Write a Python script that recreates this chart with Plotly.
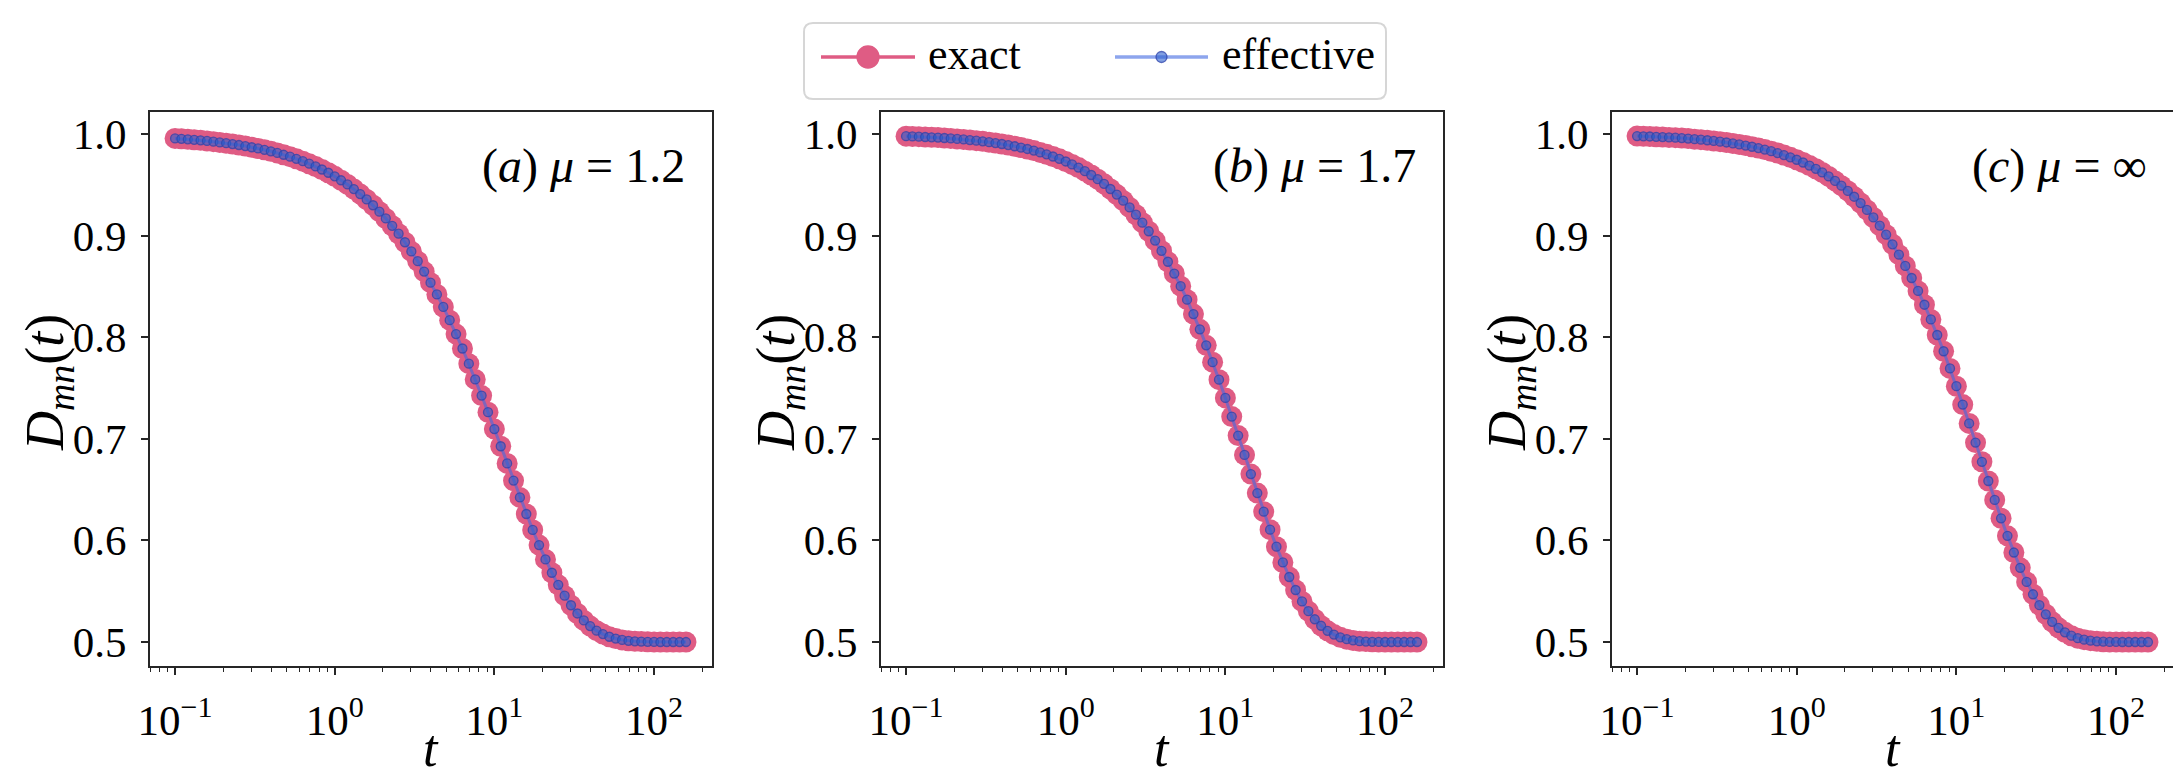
import plotly.graph_objects as go
from plotly.subplots import make_subplots

# time grid (log spaced)
t = [0.1, 0.1096, 0.1202, 0.1318, 0.1445, 0.1585, 0.1738, 0.1905, 0.2089, 0.2291,
     0.2512, 0.2754, 0.3020, 0.3311, 0.3631, 0.3981, 0.4365, 0.4786, 0.5248, 0.5754,
     0.6310, 0.6918, 0.7586, 0.8318, 0.9120,
     1.0, 1.096, 1.202, 1.318, 1.445, 1.585, 1.738, 1.905, 2.089, 2.291,
     2.512, 2.754, 3.020, 3.311, 3.631, 3.981, 4.365, 4.786, 5.248, 5.754,
     6.310, 6.918, 7.586, 8.318, 9.120,
     10.0, 10.96, 12.02, 13.18, 14.45, 15.85, 17.38, 19.05, 20.89, 22.91,
     25.12, 27.54, 30.20, 33.11, 36.31, 39.81, 43.65, 47.86, 52.48, 57.54,
     63.10, 69.18, 75.86, 83.18, 91.20,
     100.0, 109.6, 120.2, 131.8, 144.5, 158.5]

# D_mn(t), panel (a) mu = 1.2
d_a = [0.9957, 0.9953, 0.9948, 0.9943, 0.9938, 0.9932, 0.9925, 0.9918, 0.9910, 0.9901,
       0.9892, 0.9882, 0.9870, 0.9858, 0.9845, 0.9830, 0.9814, 0.9796, 0.9777, 0.9756,
       0.9733, 0.9708, 0.9681, 0.9651, 0.9619,
       0.9584, 0.9545, 0.9504, 0.9458, 0.9409, 0.9356, 0.9299, 0.9236, 0.9169, 0.9097,
       0.9019, 0.8935, 0.8845, 0.8749, 0.8646, 0.8537, 0.8421, 0.8298, 0.8168, 0.8031,
       0.7889, 0.7740, 0.7585, 0.7426, 0.7262,
       0.7096, 0.6927, 0.6758, 0.6589, 0.6423, 0.6260, 0.6103, 0.5954, 0.5813, 0.5682,
       0.5563, 0.5456, 0.5362, 0.5281, 0.5213, 0.5157, 0.5112, 0.5078, 0.5052, 0.5034,
       0.5021, 0.5012, 0.5007, 0.5004, 0.5002,
       0.5001, 0.5000, 0.5000, 0.5000, 0.5000, 0.5000]

# panel (b) mu = 1.7
d_b = [0.9979, 0.9977, 0.9974, 0.9971, 0.9968, 0.9965, 0.9961, 0.9957, 0.9952, 0.9947,
       0.9941, 0.9935, 0.9928, 0.9920, 0.9911, 0.9902, 0.9891, 0.9880, 0.9867, 0.9853,
       0.9837, 0.9819, 0.9800, 0.9779, 0.9756,
       0.9730, 0.9701, 0.9670, 0.9635, 0.9597, 0.9556, 0.9510, 0.9459, 0.9404, 0.9344,
       0.9278, 0.9206, 0.9128, 0.9043, 0.8951, 0.8851, 0.8743, 0.8627, 0.8503, 0.8370,
       0.8228, 0.8078, 0.7920, 0.7755, 0.7582,
       0.7403, 0.7219, 0.7032, 0.6842, 0.6653, 0.6466, 0.6283, 0.6106, 0.5939, 0.5783,
       0.5640, 0.5512, 0.5400, 0.5304, 0.5224, 0.5160, 0.5110, 0.5073, 0.5046, 0.5028,
       0.5016, 0.5008, 0.5004, 0.5002, 0.5001,
       0.5000, 0.5000, 0.5000, 0.5000, 0.5000, 0.5000]

# panel (c) mu = infinity
d_c = [0.9980, 0.9978, 0.9976, 0.9973, 0.9970, 0.9967, 0.9964, 0.9960, 0.9955, 0.9950,
       0.9945, 0.9939, 0.9932, 0.9925, 0.9917, 0.9908, 0.9898, 0.9887, 0.9875, 0.9862,
       0.9847, 0.9831, 0.9813, 0.9793, 0.9771,
       0.9747, 0.9720, 0.9690, 0.9658, 0.9622, 0.9583, 0.9539, 0.9492, 0.9440, 0.9383,
       0.9321, 0.9253, 0.9179, 0.9098, 0.9010, 0.8915, 0.8813, 0.8702, 0.8583, 0.8456,
       0.8320, 0.8175, 0.8022, 0.7862, 0.7693,
       0.7518, 0.7337, 0.7152, 0.6963, 0.6774, 0.6585, 0.6399, 0.6218, 0.6045, 0.5881,
       0.5730, 0.5592, 0.5470, 0.5363, 0.5273, 0.5199, 0.5140, 0.5095, 0.5062, 0.5038,
       0.5023, 0.5013, 0.5007, 0.5003, 0.5001,
       0.5001, 0.5000, 0.5000, 0.5000, 0.5000, 0.5000]

panels = [d_a, d_b, d_c]
labels = ["(<i>a</i>) <i>μ</i> = 1.2", "(<i>b</i>) <i>μ</i> = 1.7", "(<i>c</i>) <i>μ</i> = ∞"]
series_names = ["exact", "effective"]

x_ticks = [0.1, 1, 10, 100]
x_ticktext = ["10<sup>−1</sup>", "10<sup>0</sup>", "10<sup>1</sup>", "10<sup>2</sup>"]
y_ticks = [0.5, 0.6, 0.7, 0.8, 0.9, 1.0]

PINK = "#DF5C84"
BLUE_LINE = "rgba(65,105,225,0.6)"
BLUE_DOT = "rgba(45,95,205,0.6)"
BLUE_EDGE = "rgba(45,65,170,0.75)"
FONT = "Liberation Serif"
W, H = 2181, 782

fig = make_subplots(rows=1, cols=3)

for i, d in enumerate(panels):
    col = i + 1
    fig.add_trace(go.Scatter(
        x=t, y=d, mode="lines+markers", name=series_names[0],
        line=dict(color=PINK, width=3),
        marker=dict(color=PINK, size=21),
        showlegend=False), row=1, col=col)
    fig.add_trace(go.Scatter(
        x=t, y=d, mode="lines+markers", name=series_names[1],
        line=dict(color=BLUE_LINE, width=3),
        marker=dict(color=BLUE_DOT, size=9, line=dict(color=BLUE_EDGE, width=1.3)),
        showlegend=False), row=1, col=col)

# axes boxes in pixels -> paper fractions
lefts = [142, 873, 1604]
pw = 562
top, bottom = 104, 658


def px(x):
    return x / W


def py(y):
    return 1 - y / H


axis_common = dict(showline=True, linecolor="#262626", linewidth=2, mirror=True,
                   ticks="outside", ticklen=7, tickwidth=2, tickcolor="#262626",
                   showgrid=False, zeroline=False, automargin=False,
                   tickfont=dict(family=FONT, size=43, color="black"))

for i in range(3):
    sfx = "" if i == 0 else str(i + 1)
    fig.layout["xaxis" + sfx].update(
        type="log", range=[-1.157, 2.363],
        domain=[px(lefts[i]), px(lefts[i] + pw)],
        tickvals=x_ticks, ticktext=x_ticktext, ticklabelstandoff=8,
        minor=dict(ticks="outside", ticklen=4, tickwidth=1, tickcolor="#262626",
                   tickvals=[0.07, 0.08, 0.09, 0.2, 0.3, 0.4, 0.5, 0.6, 0.7, 0.8, 0.9,
                             2, 3, 4, 5, 6, 7, 8, 9, 20, 30, 40, 50, 60, 70, 80, 90, 200],
                   showgrid=False),
        **axis_common)
    fig.layout["yaxis" + sfx].update(
        range=[0.4764, 1.0217],
        domain=[py(bottom), py(top)],
        tickvals=y_ticks, tickformat=".1f", ticklabelstandoff=6,
        **axis_common)
    fig.add_annotation(
        text=labels[i], xref="x%s domain" % sfx, yref="y%s domain" % sfx,
        x=0.955, y=0.9025, xanchor="right", yanchor="middle", showarrow=False,
        font=dict(family=FONT, size=48, color="black"))
    # axis titles
    fig.add_annotation(
        text="<i>t</i>", xref="paper", yref="paper",
        x=px(lefts[i] + pw / 2), y=py(740), xanchor="center", yanchor="middle",
        showarrow=False, font=dict(family=FONT, size=52, color="black"))
    fig.add_annotation(
        text="<i>D</i><sub><i>mn</i></sub>(<i>t</i>)", xref="paper", yref="paper",
        x=px(lefts[i] - 102), y=py((top + bottom) / 2 - 6), xanchor="center",
        yanchor="middle", textangle=-90, showarrow=False,
        font=dict(family=FONT, size=54, color="black"))

# legend drawn by hand so the sample lines can be as long as in the original
bx0, bx1, by0, by1, r = 796, 1378, 15, 91, 9
rx, ry = r / W, r / H
X0, X1, Y0, Y1 = px(bx0), px(bx1), py(by0), py(by1)
box = (f"M {X0 + rx},{Y0} L {X1 - rx},{Y0} Q {X1},{Y0} {X1},{Y0 - ry} "
       f"L {X1},{Y1 + ry} Q {X1},{Y1} {X1 - rx},{Y1} L {X0 + rx},{Y1} "
       f"Q {X0},{Y1} {X0},{Y1 + ry} L {X0},{Y0 - ry} Q {X0},{Y0} {X0 + rx},{Y0} Z")
fig.add_shape(type="path", path=box, xref="paper", yref="paper",
              line=dict(color="#d6d6d6", width=2), fillcolor="white", layer="above")

ly = 49
legend_items = [
    dict(x0=813, x1=907, line=PINK, dot=PINK, edge=PINK, d=22, text_x=918),
    dict(x0=1107, x1=1200, line=BLUE_LINE, dot=BLUE_DOT, edge=BLUE_EDGE, d=11, text_x=1212),
]
for name, it in zip(series_names, legend_items):
    fig.add_shape(type="line", xref="paper", yref="paper",
                  x0=px(it["x0"]), x1=px(it["x1"]), y0=py(ly), y1=py(ly),
                  line=dict(color=it["line"], width=3.5), layer="above")
    cx = (it["x0"] + it["x1"]) / 2
    hd = it["d"] / 2
    fig.add_shape(type="circle", xref="paper", yref="paper",
                  x0=px(cx - hd), x1=px(cx + hd), y0=py(ly + hd), y1=py(ly - hd),
                  fillcolor=it["dot"], line=dict(color=it["edge"], width=1.3),
                  layer="above")
    fig.add_annotation(text=name, xref="paper", yref="paper",
                       x=px(it["text_x"]), y=py(ly - 2), xanchor="left",
                       yanchor="middle", showarrow=False,
                       font=dict(family=FONT, size=44, color="black"))

fig.update_layout(
    width=W, height=H,
    margin=dict(l=0, r=0, t=0, b=0),
    paper_bgcolor="white", plot_bgcolor="white",
    font=dict(family=FONT, color="black"),
    showlegend=False,
)

fig.write_html("out.html")
